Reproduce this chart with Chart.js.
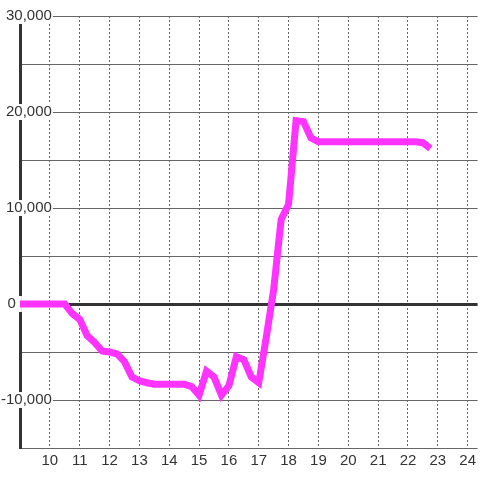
<!DOCTYPE html>
<html>
<head>
<meta charset="utf-8">
<script src="https://cdn.jsdelivr.net/npm/chart.js@4.4.0/dist/chart.umd.min.js"></script>
<style>
  body { margin: 0; background: #fff; }
  #wrap { width: 480px; height: 480px; }
</style>
</head>
<body>
<div id="wrap"><canvas id="myChart"></canvas></div>
<script>
// horas (de 15 em 15 min) e saldo acumulado
var horas = [
  9, 9.25, 9.5, 9.75, 10, 10.25, 10.5, 10.75,
  11, 11.25, 11.5, 11.75, 12, 12.25, 12.5, 12.75,
  13, 13.25, 13.5, 13.75, 14, 14.25, 14.5, 14.75,
  15, 15.25, 15.5, 15.75, 16, 16.25, 16.5, 16.75,
  17, 17.25, 17.5, 17.75, 18, 18.25, 18.5, 18.75,
  19, 19.25, 19.5, 19.75, 20, 20.25, 20.5, 20.75,
  21, 21.25, 21.5, 21.75, 22, 22.25, 22.5, 22.75
];
var saldo = [
  0, 0, 0, 0, 0, 0, 0, -1000,
  -1600, -3300, -4000, -4900, -5000, -5200, -6000, -7600,
  -8000, -8200, -8350, -8350, -8350, -8350, -8350, -8600,
  -9500, -7000, -7600, -9500, -8500, -5500, -5800, -7600,
  -8200, -3500, 1500, 8800, 10400, 19100, 19000, 17300,
  16900, 16900, 16900, 16900, 16900, 16900, 16900, 16900,
  16900, 16900, 16900, 16900, 16900, 16900, 16800, 16200
];
var xTicks = [10, 11, 12, 13, 14, 15, 16, 17, 18, 19, 20, 21, 22, 23, 24];
var yTicks = [-10000, 0, 10000, 20000, 30000];

var pontos = [];
for (var i = 0; i < horas.length; i++) {
  pontos.push({ x: horas[i], y: saldo[i] });
}

Chart.defaults.font.family = "'Liberation Sans', Arial, sans-serif";
Chart.defaults.font.size = 15;
Chart.defaults.color = '#333';

var fmt = new Intl.NumberFormat('en-US');

new Chart(document.getElementById('myChart'), {
  type: 'line',
  data: {
    datasets: [{
      data: pontos,
      borderColor: '#ff33ff',
      borderWidth: 7,
      pointRadius: 0,
      tension: 0
    }]
  },
  options: {
    responsive: true,
    maintainAspectRatio: false,
    animation: false,
    layout: { padding: { top: 16, left: 20, right: 0, bottom: 0 } },
    plugins: { legend: { display: false }, tooltip: { enabled: false } },
    scales: {
      x: {
        type: 'linear',
        min: 9,
        max: 24.333,
        afterFit: function (s) { s.height = 32; },
        ticks: {
          stepSize: 1,
          includeBounds: false,
          padding: 4,
          color: '#333',
          callback: function (v) { return xTicks.includes(v) ? String(v) : ''; }
        },
        grid: { color: '#666', lineWidth: 1, drawTicks: false },
        border: { display: false, dash: [2, 2] }
      },
      y: {
        min: -15000,
        max: 30000,
        afterFit: function (s) { s.width = 0; },
        ticks: {
          stepSize: 5000,
          mirror: true,
          crossAlign: 'far',
          padding: -19,
          color: '#333',
          showLabelBackdrop: function (c) { return c.tick.value !== 0 && yTicks.includes(c.tick.value); },
          backdropColor: '#fff',
          backdropPadding: { top: -1, bottom: -1, left: 1, right: 1 },
          callback: function (v) { return (v !== 0 && yTicks.includes(v)) ? fmt.format(v) : ''; }
        },
        grid: {
          drawTicks: false,
          color: function (c) { return c.tick && c.tick.value === 0 ? '#333' : '#666'; },
          lineWidth: function (c) { return c.tick && c.tick.value === 0 ? 3 : 1; }
        },
        border: { display: true, color: '#333', width: 3 }
      },
      y2: {
        position: 'left',
        min: -15000,
        max: 30000,
        afterFit: function (s) { s.width = 0; },
        ticks: {
          stepSize: 5000,
          mirror: true,
          crossAlign: 'near',
          padding: -12.5,
          color: '#333',
          showLabelBackdrop: function (c) { return c.tick.value === 0; },
          backdropColor: '#fff',
          backdropPadding: { top: -1, bottom: -1, left: 1, right: 6 },
          callback: function (v) { return v === 0 ? '0' : ''; }
        },
        grid: { display: false, drawTicks: false },
        border: { display: false }
      }
    }
  }
});
</script>
</body>
</html>
